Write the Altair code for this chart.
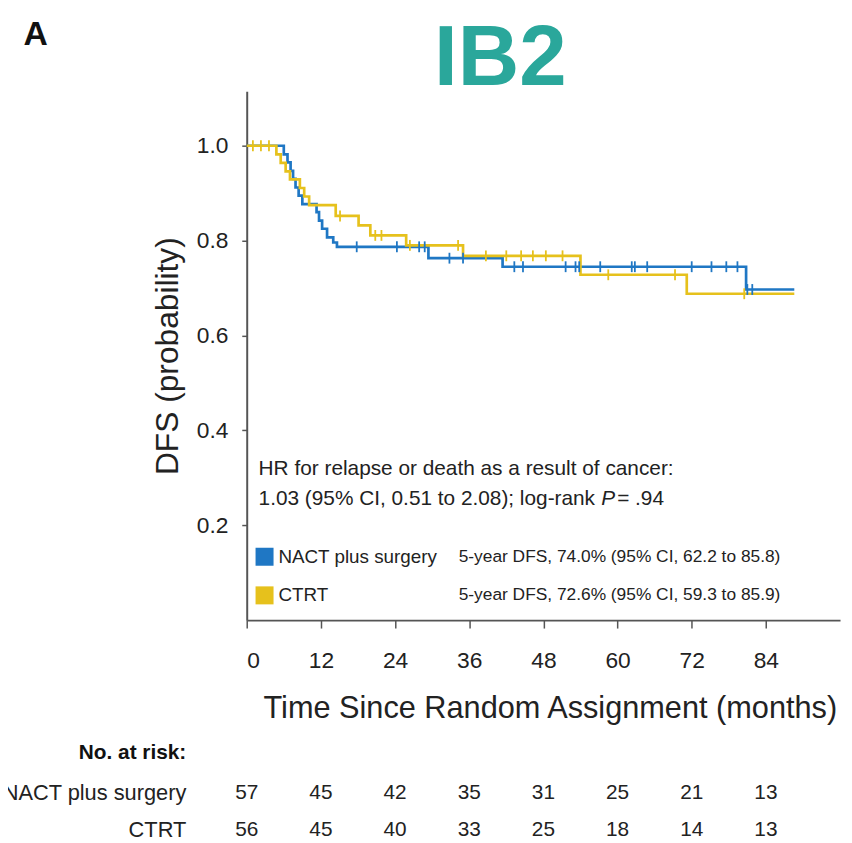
import altair as alt
import pandas as pd

FONT = "Liberation Sans"
BLUE = "#1f77c4"
YELLOW = "#e6c11c"
TEAL = "#2aa79b"

# Kaplan-Meier step points (time in months, survival probability)
nact_t = [0, 6.0, 6.6, 7.1, 7.5, 7.9, 8.4, 9.0, 11.3, 11.7, 12.2, 13.0, 14.0, 14.6, 29.4, 41.4, 80.8, 88.6]
nact_s = [1.0, 0.982, 0.965, 0.947, 0.930, 0.912, 0.895, 0.877, 0.860, 0.842, 0.825, 0.807, 0.796, 0.787, 0.763, 0.745, 0.697, 0.697]
ctrt_t = [0, 4.8, 5.5, 6.3, 7.0, 8.6, 9.3, 10.1, 14.4, 18.1, 20.0, 25.8, 35.0, 54.0, 71.2, 88.6]
ctrt_s = [1.0, 0.982, 0.964, 0.946, 0.929, 0.911, 0.893, 0.875, 0.852, 0.832, 0.811, 0.790, 0.768, 0.728, 0.688, 0.688]

# censoring times
nact_cens = [17.8, 24.3, 27.9, 28.8, 32.8, 35.0, 43.3, 44.7, 51.6, 53.2, 53.8, 57.2, 62.3, 62.8,
             64.8, 72.0, 75.2, 77.6, 79.4, 81.0, 81.8]
ctrt_cens = [1.0, 2.3, 3.6, 15.1, 20.8, 21.8, 26.4, 34.2, 38.7, 42.0, 44.4, 46.3, 48.4, 51.1,
             58.5, 69.3, 80.5]

# number at risk
risk_t = [0, 12, 24, 36, 48, 60, 72, 84]
nact_risk = [57, 45, 42, 35, 31, 25, 21, 13]
ctrt_risk = [56, 45, 40, 33, 25, 18, 14, 13]

groups = ["NACT plus surgery", "CTRT"]


def step_value(ts, ss, t):
    v = ss[0]
    for ti, si in zip(ts, ss):
        if ti <= t:
            v = si
    return v


curve_df = pd.concat([
    pd.DataFrame({"t": nact_t, "s": nact_s, "group": groups[0]}),
    pd.DataFrame({"t": ctrt_t, "s": ctrt_s, "group": groups[1]}),
])
cens_df = pd.concat([
    pd.DataFrame({"t": nact_cens, "s": [step_value(nact_t, nact_s, t) for t in nact_cens], "group": groups[0]}),
    pd.DataFrame({"t": ctrt_cens, "s": [step_value(ctrt_t, ctrt_s, t) for t in ctrt_cens], "group": groups[1]}),
])
risk_df = pd.DataFrame({"t": risk_t, "nact": nact_risk, "ctrt": ctrt_risk})

color = alt.Color("group:N", scale=alt.Scale(domain=groups, range=[BLUE, YELLOW]), legend=None)

X = alt.X("t:Q", scale=alt.Scale(domain=[0, 96], nice=False, zero=False),
          axis=alt.Axis(values=risk_t, title="Time Since Random Assignment (months)",
                        labelFontSize=23, labelPadding=22, tickSize=8,
                        titleFontSize=31, titleX=306, titleY=89,
                        titleBaseline="middle", titleAlign="center"))
Y = alt.Y("s:Q", scale=alt.Scale(domain=[0, 1.115], nice=False, zero=False),
          axis=alt.Axis(values=[0.2, 0.4, 0.6, 0.8, 1.0], format=".1f", title="DFS (probability)",
                        labelFontSize=23, labelPadding=14, tickSize=5,
                        titleFontSize=32, titleX=-80, titleY=267,
                        titleBaseline="middle", titleAlign="center"))

lines = alt.Chart(curve_df).mark_line(interpolate="step-after", strokeWidth=2.7).encode(
    x=X, y=Y, color=color, detail="group:N")
cens = alt.Chart(cens_df).mark_point(shape="M0,-1L0,1", size=120, strokeWidth=1.8, filled=False, opacity=1).encode(
    x=X, y=Y, color=color)


def txt(label, x, y, size, align="left", weight="normal", color="#222", style="normal"):
    return alt.Chart(pd.DataFrame({"label": [label]})).mark_text(
        align=align, baseline="middle", fontSize=size, fontWeight=weight, font=FONT,
        color=color, fontStyle=style).encode(x=alt.value(x), y=alt.value(y), text="label:N")


texts = [
    txt("A", -213, -57, 34, align="center", weight="bold", color="#111"),
    txt("IB2", 256, -32, 86, align="center", weight="bold", color=TEAL),
    txt("HR for relapse or death as a result of cancer:", 12, 381, 21),
    txt("1.03 (95% CI, 0.51 to 2.08); log-rank ", 12, 412, 21),
    txt("P", 358, 412, 21, style="italic"),
    txt("= .94", 374, 412, 21),
    txt("NACT plus surgery", 32, 470, 19),
    txt("CTRT", 32, 509, 19),
    txt("5-year DFS, 74.0% (95% CI, 62.2 to 85.8)", 214, 470, 17.5),
    txt("5-year DFS, 72.6% (95% CI, 59.3 to 85.9)", 214, 509, 17.5),
    txt("No. at risk:", -61, 668, 21, align="right", weight="bold", color="#111"),
    txt("NACT plus surgery", -61, 709, 22, align="right"),
    txt("CTRT", -61, 746, 22, align="right"),
]

sq_df = pd.DataFrame({"group": groups, "py": [470, 509]})
squares = alt.Chart(sq_df).mark_square(size=330, opacity=1).encode(
    x=alt.value(18), y=alt.Y("py:Q", scale=None), color=color)

risk_nact = alt.Chart(risk_df).mark_text(fontSize=21, font=FONT, color="#222", baseline="middle").encode(
    x=X, y=alt.value(709), text="nact:Q")
risk_ctrt = alt.Chart(risk_df).mark_text(fontSize=21, font=FONT, color="#222", baseline="middle").encode(
    x=X, y=alt.value(746), text="ctrt:Q")

chart = alt.layer(lines, cens, squares, risk_nact, risk_ctrt, *texts).properties(
    width=599, height=534,
    autosize=alt.AutoSizeParams(type="none"),
    padding={"left": 241, "top": 80, "right": 4, "bottom": 221},
).configure_view(stroke=None).configure_axis(
    domainColor="#555", domainWidth=2, tickColor="#555", tickWidth=1.5,
    labelFont=FONT, titleFont=FONT, labelColor="#222", titleColor="#222",
    grid=False, titleFontWeight="normal",
)

chart.save("out.html", embed_options={"renderer": "svg", "actions": False})
